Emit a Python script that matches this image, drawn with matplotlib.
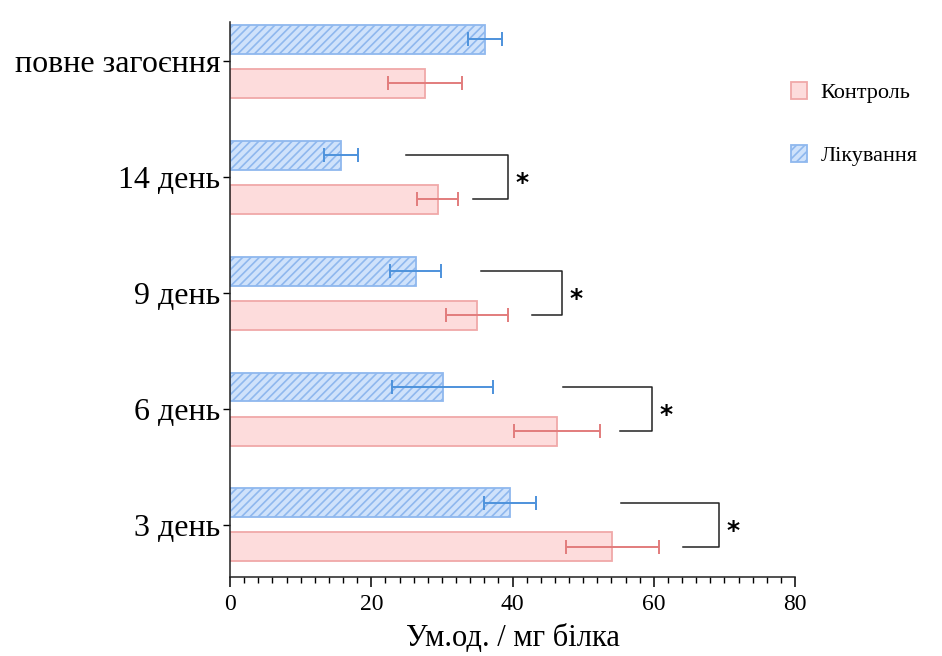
import matplotlib
matplotlib.use("Agg")
import matplotlib.pyplot as plt
from matplotlib.patches import Patch
from matplotlib.ticker import MultipleLocator

plt.rcParams['font.family'] = ['Liberation Serif', 'DejaVu Serif']
plt.rcParams['hatch.linewidth'] = 1.2

# --- data (bottom to top) ---
categories = ['3 день', '6 день', '9 день', '14 день', 'повне загоєння']
control_mean = [54.1, 46.3, 35.0, 29.4, 27.6]
control_err = [6.6, 6.1, 4.4, 2.9, 5.3]
treat_mean = [39.6, 30.1, 26.3, 15.7, 36.1]
treat_err = [3.7, 7.1, 3.6, 2.4, 2.4]

# significance brackets for the first four groups
sig_vline = [69.3, 59.8, 47.0, 39.4]
sig_top_start = [55.4, 47.2, 35.6, 24.9]
sig_bot_start = [64.2, 55.2, 42.8, 34.4]

COLORS = {
    'ctrl_fill': '#fddcdc',
    'ctrl_edge': '#f0a8a8',
    'ctrl_err': '#e27c7c',
    'trt_fill': '#cfe2fb',
    'trt_edge': '#8fb8ee',
    'trt_err': '#4d92dc',
}

fig = plt.figure(figsize=(9.42, 6.56), dpi=100)
ax = fig.add_axes([0.2442, 0.1204, 0.5998, 0.846])

ypos = list(range(len(categories)))
off = 0.19
h = 0.25

ax.barh([y - off for y in ypos], control_mean, height=h,
        color=COLORS['ctrl_fill'], edgecolor=COLORS['ctrl_edge'], linewidth=1.3)
ax.barh([y + off for y in ypos], treat_mean, height=h,
        color=COLORS['trt_fill'], edgecolor=COLORS['trt_edge'], linewidth=1.3,
        hatch='////')

ax.errorbar(control_mean, [y - off for y in ypos], xerr=control_err, fmt='none',
            ecolor=COLORS['ctrl_err'], elinewidth=1.4, capsize=5, capthick=1.4)
ax.errorbar(treat_mean, [y + off for y in ypos], xerr=treat_err, fmt='none',
            ecolor=COLORS['trt_err'], elinewidth=1.4, capsize=5, capthick=1.4)

# brackets + stars
for i, xv in enumerate(sig_vline):
    ax.plot([sig_top_start[i], xv, xv, sig_bot_start[i]],
            [i + off, i + off, i - off, i - off],
            color='#222222', linewidth=1.1, clip_on=False)
    ax.text(xv + 1.0, i - 0.05, '*', ha='left', va='center', fontsize=18,
            fontweight='heavy', family='DejaVu Sans', color='#000000')

ax.set_xlim(0, 80)
ax.set_ylim(-0.45, 4.34)
ax.set_yticks(ypos)
ax.set_yticklabels(categories, fontsize=23)
ax.xaxis.set_major_locator(MultipleLocator(20))
ax.xaxis.set_minor_locator(MultipleLocator(2))
ax.tick_params(axis='x', which='major', length=7, width=1.1, labelsize=17, pad=5)
ax.tick_params(axis='x', which='minor', length=4, width=1.0)
ax.tick_params(axis='y', length=5, width=1.0, pad=2)
ax.set_xlabel('Ум.од. / мг білка', fontsize=22, labelpad=7)

for s in ['top', 'right']:
    ax.spines[s].set_visible(False)
for s in ['left', 'bottom']:
    ax.spines[s].set_linewidth(1.1)
    ax.spines[s].set_color('#222222')

handles = [
    Patch(facecolor=COLORS['ctrl_fill'], edgecolor=COLORS['ctrl_edge'], linewidth=1.3),
    Patch(facecolor=COLORS['trt_fill'], edgecolor=COLORS['trt_edge'], linewidth=1.3,
          hatch='////'),
]
fig.legend(handles, ['Контроль', 'Лікування'], loc='upper left',
           bbox_to_anchor=(0.818, 0.905), frameon=False, fontsize=16,
           handlelength=0.75, handleheight=0.75, handletextpad=0.6,
           labelspacing=1.9)

fig.savefig('out.png', dpi=100)
